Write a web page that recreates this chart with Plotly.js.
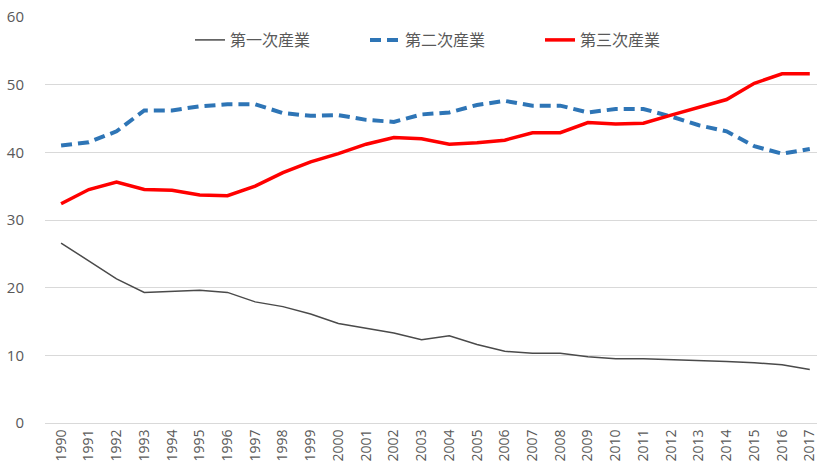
<!DOCTYPE html>
<html><head><meta charset="utf-8">
<script src="https://cdn.plot.ly/plotly-3.0.1.min.js"></script>
<style>html,body{margin:0;padding:0;background:#fff;}#chart{width:817px;height:473px;}</style>
</head><body><div id="chart"></div>
<script>
const years = ["1990","1991","1992","1993","1994","1995","1996","1997","1998","1999","2000","2001","2002","2003","2004","2005","2006","2007","2008","2009","2010","2011","2012","2013","2014","2015","2016","2017"];
const seriesNames = ["第一次産業","第二次産業","第三次産業"];
const primary = [26.6,24.0,21.3,19.3,19.5,19.6,19.3,17.9,17.2,16.1,14.7,14.0,13.3,12.3,12.9,11.6,10.6,10.3,10.3,9.8,9.5,9.5,9.4,9.3,9.1,8.9,8.6,7.9];
const secondary = [41.0,41.5,43.1,46.2,46.2,46.8,47.1,47.1,45.8,45.4,45.5,44.8,44.5,45.6,45.9,47.0,47.6,46.9,46.9,45.9,46.4,46.4,45.3,44.0,43.1,40.9,39.8,40.5];
const tertiary = [32.4,34.5,35.6,34.5,34.4,33.7,33.6,35.0,37.0,38.6,39.8,41.2,42.2,42.0,41.2,41.4,41.8,42.9,42.9,44.4,44.2,44.3,45.5,46.7,47.8,50.2,51.6,51.6];

const cjk = '"Noto Sans CJK JP", "Noto Sans", sans-serif';
const num = '"Open Sans", "Noto Sans", sans-serif';
const traces = [
  {x: years, y: primary, name: seriesNames[0], type: 'scatter', mode: 'lines',
   line: {color: '#4a4a4a', width: 1.5}},
  {x: years, y: secondary, name: seriesNames[1], type: 'scatter', mode: 'lines',
   line: {color: '#2E75B6', width: 4, dash: '11px,6px'}},
  {x: years, y: tertiary, name: seriesNames[2], type: 'scatter', mode: 'lines',
   line: {color: '#FF0000', width: 3.5}}
];
const layout = {
  width: 817, height: 473,
  margin: {l: 45, r: 0, t: 17, b: 50, autoexpand: false},
  paper_bgcolor: '#fff', plot_bgcolor: '#fff',
  font: {family: num, color: '#595959', size: 12},
  showlegend: true,
  legend: {orientation: 'h', xref: 'container', yref: 'container', x: 190/817, xanchor: 'left', y: 1 - 40/473, yanchor: 'middle',
           font: {size: 16, color: '#595959', family: cjk}, entrywidth: 130, entrywidthmode: 'pixels', bgcolor: 'rgba(0,0,0,0)'},
  xaxis: {type: 'category', range: [-0.58, 27.26], tickangle: -90, showgrid: false, zeroline: false,
          showline: true, linecolor: '#d9d9d9', linewidth: 1, ticks: '', tickfont: {size: 14, color: '#595959', family: num}},
  yaxis: {range: [0, 60], dtick: 10, showgrid: true, gridcolor: '#d9d9d9', gridwidth: 1, zeroline: false,
          showline: false, ticks: '', ticklabelstandoff: 20, tickfont: {size: 15, color: '#595959', family: num}}
};
Plotly.newPlot('chart', traces, layout, {displayModeBar: false, staticPlot: true});
</script></body></html>
